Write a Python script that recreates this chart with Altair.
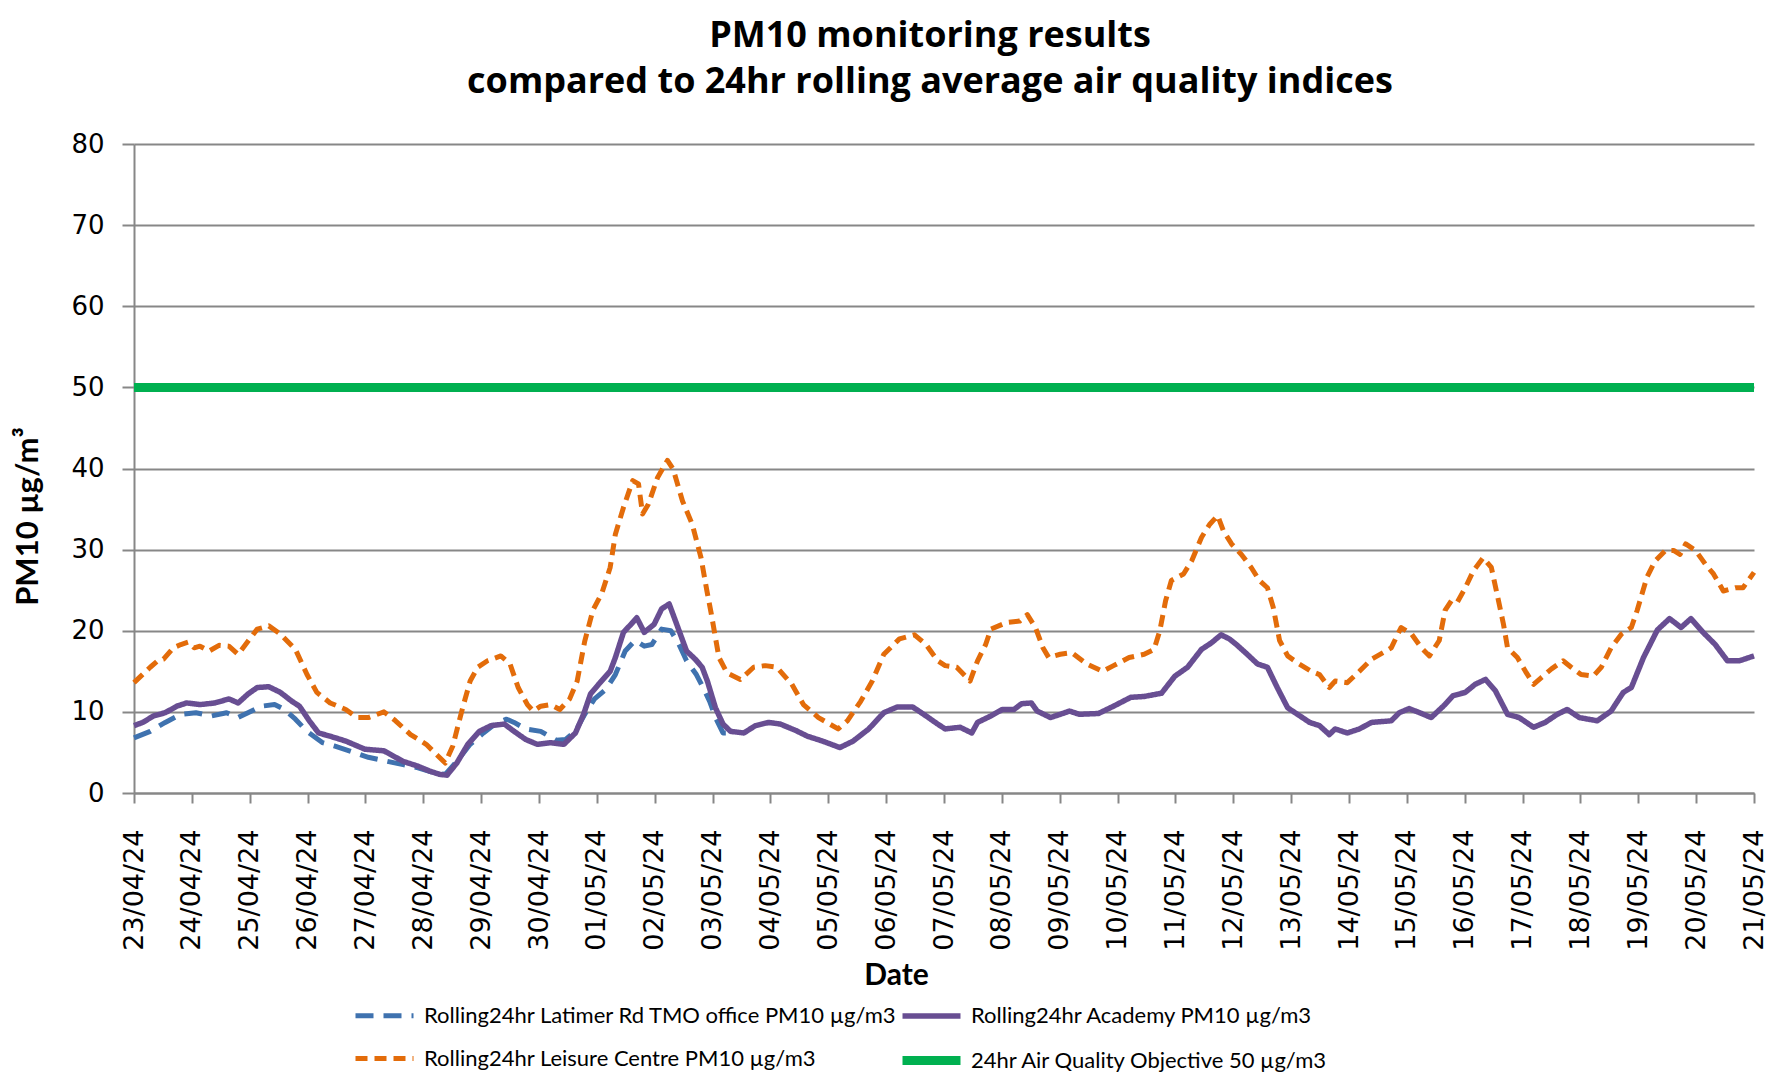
import altair as alt
import pandas as pd

# ---------------- data ----------------
START = "2024-04-23"
N_DAYS = 28

S_LAT = "Rolling24hr Latimer Rd TMO office PM10 µg/m3"
S_ACA = "Rolling24hr Academy PM10 µg/m3"
S_LEI = "Rolling24hr Leisure Centre PM10 µg/m3"
S_OBJ = "24hr Air Quality Objective 50 µg/m3"

# days elapsed since 23/04/24 00:00 and PM10 values
lat_days = [0.0, 0.28, 0.54, 0.81, 1.07, 1.34, 1.60, 1.80, 1.97, 2.20, 2.43, 2.60, 2.79, 2.99,
            3.26, 3.46, 3.72, 4.05, 4.38, 4.65, 4.91, 5.18, 5.38, 5.58, 5.81, 6.04, 6.24, 6.44,
            6.57, 6.77, 7.03, 7.30, 7.46, 7.63, 7.79, 7.96, 8.16, 8.32, 8.49, 8.66, 8.82, 8.95,
            9.12, 9.28, 9.42, 9.55, 9.72, 9.85, 9.95, 10.05, 10.18, 10.25]
lat_vals = [6.8, 7.6, 8.7, 9.7, 9.9, 9.5, 9.9, 9.3, 9.9, 10.7, 10.9, 10.3, 9.1, 7.6,
            6.2, 5.8, 5.2, 4.4, 3.9, 3.5, 3.1, 2.5, 2.3, 3.9, 6.0, 7.4, 8.5, 9.1,
            8.7, 7.9, 7.6, 6.5, 6.6, 7.6, 9.7, 11.6, 12.8, 14.6, 17.5, 18.8, 18.1, 18.3,
            20.2, 20.0, 18.3, 16.3, 14.6, 12.8, 11.3, 9.3, 7.4, 7.4]

aca_days = [0.0, 0.15, 0.34, 0.54, 0.74, 0.91, 1.14, 1.40, 1.64, 1.80, 1.97, 2.13, 2.33, 2.53,
            2.73, 2.86, 3.03, 3.19, 3.39, 3.66, 3.99, 4.32, 4.65, 4.91, 5.11, 5.28, 5.41, 5.58,
            5.77, 5.97, 6.17, 6.40, 6.57, 6.77, 6.97, 7.20, 7.43, 7.63, 7.77, 7.89, 8.03, 8.23,
            8.32, 8.46, 8.59, 8.69, 8.82, 8.99, 9.12, 9.25, 9.38, 9.55, 9.70, 9.82, 9.91, 10.05,
            10.18, 10.31, 10.54, 10.74, 10.97, 11.17, 11.44, 11.64, 11.90, 12.20, 12.43, 12.70,
            12.96, 13.19, 13.46, 13.69, 13.89, 14.02, 14.28, 14.48, 14.58, 14.81, 15.01, 15.21,
            15.34, 15.51, 15.61, 15.84, 16.01, 16.17, 16.34, 16.67, 16.93, 17.23, 17.46, 17.76,
            17.99, 18.21, 18.45, 18.62, 18.79, 18.93, 19.07, 19.24, 19.42, 19.59, 19.76, 19.94,
            20.11, 20.32, 20.49, 20.66, 20.76, 20.97, 21.18, 21.39, 21.73, 21.87, 22.04, 22.22,
            22.42, 22.63, 22.80, 23.01, 23.18, 23.36, 23.53, 23.74, 23.94, 24.19, 24.39, 24.60,
            24.77, 24.98, 25.29, 25.53, 25.74, 25.88, 26.09, 26.33, 26.54, 26.74, 26.91, 27.12,
            27.33, 27.54, 27.75, 28.0]
aca_vals = [8.3, 8.7, 9.5, 9.9, 10.7, 11.1, 10.9, 11.1, 11.6, 11.1, 12.2, 13.0, 13.1, 12.4,
            11.3, 10.7, 8.9, 7.4, 7.0, 6.4, 5.4, 5.2, 3.9, 3.3, 2.7, 2.3, 2.2, 3.7,
            6.0, 7.6, 8.3, 8.5, 7.6, 6.6, 6.0, 6.2, 6.0, 7.4, 9.7, 12.2, 13.4, 15.0,
            16.7, 19.8, 20.8, 21.6, 19.8, 20.8, 22.7, 23.3, 20.8, 17.5, 16.5, 15.5, 13.8, 10.5,
            8.5, 7.6, 7.4, 8.3, 8.7, 8.5, 7.7, 7.0, 6.4, 5.6, 6.4, 7.9,
            9.9, 10.6, 10.6, 9.5, 8.5, 7.9, 8.1, 7.4, 8.7, 9.5, 10.3, 10.3,
            11.0, 11.1, 10.1, 9.3, 9.7, 10.1, 9.7, 9.8, 10.7, 11.8, 11.9, 12.3,
            14.4, 15.5, 17.7, 18.5, 19.5, 19.0, 18.2, 17.1, 15.9, 15.5, 13.0, 10.5,
            9.7, 8.7, 8.3, 7.2, 7.9, 7.4, 7.9, 8.7, 8.9, 9.9, 10.4, 9.9,
            9.3, 10.7, 12.0, 12.4, 13.4, 14.0, 12.6, 9.7, 9.3, 8.1, 8.7, 9.7,
            10.3, 9.3, 8.9, 10.1, 12.4, 13.0, 16.7, 20.1, 21.5, 20.4, 21.5, 19.8,
            18.3, 16.3, 16.3, 16.9]

lei_days = [0.0, 0.28, 0.41, 0.51, 0.68, 0.81, 0.94, 1.04, 1.14, 1.30, 1.47, 1.64, 1.80, 1.97,
            2.13, 2.33, 2.53, 2.79, 2.99, 3.16, 3.39, 3.66, 3.85, 4.05, 4.32, 4.52, 4.78, 5.05,
            5.25, 5.38, 5.51, 5.68, 5.81, 5.94, 6.11, 6.34, 6.50, 6.64, 6.80, 6.90, 7.03, 7.20,
            7.36, 7.53, 7.66, 7.79, 7.93, 8.09, 8.23, 8.32, 8.46, 8.62, 8.72, 8.79, 8.89, 9.05,
            9.22, 9.32, 9.48, 9.65, 9.80, 9.90, 9.98, 10.11, 10.25, 10.48, 10.71, 10.91, 11.11,
            11.37, 11.57, 11.83, 12.17, 12.33, 12.56, 12.76, 12.96, 13.23, 13.49, 13.69, 13.89,
            14.02, 14.22, 14.45, 14.58, 14.72, 14.81, 15.08, 15.31, 15.44, 15.58, 15.71, 15.81,
            16.01, 16.21, 16.47, 16.74, 16.93, 17.20, 17.46, 17.63, 17.73, 17.83, 17.93, 18.14,
            18.28, 18.45, 18.59, 18.73, 18.83, 18.97, 19.14, 19.31, 19.45, 19.59, 19.69, 19.80,
            19.94, 20.14, 20.35, 20.49, 20.66, 20.76, 20.97, 21.18, 21.39, 21.59, 21.73, 21.90,
            22.08, 22.25, 22.39, 22.56, 22.66, 22.77, 22.87, 23.01, 23.15, 23.32, 23.46, 23.56,
            23.67, 23.74, 23.91, 24.05, 24.19, 24.32, 24.50, 24.70, 24.84, 25.01, 25.22, 25.36,
            25.53, 25.71, 25.88, 25.98, 26.15, 26.29, 26.47, 26.61, 26.72, 26.82, 26.99, 27.16,
            27.30, 27.47, 27.68, 27.81, 28.0]
lei_vals = [13.6, 15.5, 16.3, 16.5, 17.9, 18.3, 18.6, 17.9, 18.1, 17.5, 18.2, 18.1, 17.1, 18.7,
            20.2, 20.6, 19.6, 17.7, 14.6, 12.4, 11.1, 10.3, 9.3, 9.3, 10.0, 8.9, 7.2, 6.0,
            4.6, 3.7, 5.8, 10.5, 13.8, 15.5, 16.3, 16.9, 15.9, 13.0, 10.9, 10.1, 10.7, 10.9,
            10.3, 11.6, 13.8, 18.7, 22.5, 24.7, 27.8, 31.9, 35.2, 38.5, 38.1, 34.4, 35.6, 38.9,
            41.0, 39.9, 36.0, 33.1, 29.0, 25.0, 22.0, 16.7, 14.8, 14.0, 15.5, 15.7, 15.5,
            13.4, 10.9, 9.3, 7.9, 8.9, 11.3, 13.8, 17.1, 19.0, 19.5, 18.3, 16.3,
            15.7, 15.5, 13.8, 16.3, 18.3, 20.2, 21.0, 21.2, 22.0, 20.4, 17.9, 16.7,
            17.1, 17.3, 15.9, 15.0, 15.7, 16.7, 17.1, 17.7, 20.0, 23.7, 26.2, 27.0,
            28.6, 31.5, 33.1, 34.2, 32.3, 30.7, 29.4, 27.8, 26.2, 25.3, 22.9, 18.8,
            16.9, 15.9, 15.0, 14.6, 13.0, 13.8, 13.6, 15.0, 16.5, 17.3, 17.9, 20.4,
            19.6, 17.9, 16.9, 18.8, 22.5, 23.7, 23.5, 25.3, 27.4, 29.0, 27.8, 24.5,
            20.8, 17.9, 16.7, 15.0, 13.4, 14.2, 15.3, 16.3, 15.5, 14.6, 14.4, 15.5,
            17.9, 19.6, 20.4, 22.5, 26.6, 28.6, 29.9, 29.9, 29.4, 30.7, 29.9, 28.2,
            27.0, 24.9, 25.3, 25.3, 27.2]

obj_days = [0.0, 28.0]
obj_vals = [50, 50]

series_order = [S_LAT, S_ACA, S_LEI, S_OBJ]
series_colors = ["#3F72AF", "#684E92", "#E36C0A", "#00B050"]
series_dash = [[18, 10], [1, 0], [12, 7], [1, 0]]
series_width = [5, 5.5, 5, 9]

y_ticks = [0, 10, 20, 30, 40, 50, 60, 70, 80]

# ---------------- build table ----------------
start_ts = pd.Timestamp(START, tz="UTC")


def frame(name, days, vals):
    if len(days) != len(vals):
        raise ValueError(f"{name}: {len(days)} days vs {len(vals)} values")
    t = [start_ts + pd.to_timedelta(d, unit="D") for d in days]
    return pd.DataFrame({
        "t": [int(x.value // 1_000_000) for x in t],
        "v": vals,
        "series": name,
        "ord": list(range(len(days))),
    })


df = pd.concat([
    frame(S_LAT, lat_days, lat_vals),
    frame(S_LEI, lei_days, lei_vals),
    frame(S_ACA, aca_days, aca_vals),
    frame(S_OBJ, obj_days, obj_vals),
], ignore_index=True)

day_ticks = [int((start_ts + pd.Timedelta(days=i)).value // 1_000_000) for i in range(N_DAYS + 1)]

GRID = "#878787"

chart = alt.Chart(df).mark_line(strokeCap="butt", strokeJoin="round").encode(
    x=alt.X(
        "t:T",
        scale=alt.Scale(type="utc", domain=[day_ticks[0], day_ticks[-1]], nice=False),
        axis=alt.Axis(
            values=day_ticks,
            labelExpr="utcFormat(datum.value, '%d/%m/%y')",
            labelAngle=270,
            labelFont="DejaVu Sans",
            labelFontSize=27,
            labelColor="#000000",
            labelPadding=26,
            tickSize=10,
            tickColor=GRID,
            tickWidth=2,
            domainColor=GRID,
            domainWidth=2,
            grid=False,
            title="Date",
            titleFont="Lato",
            titleFontSize=30,
            titleFontWeight="bold",
            titleColor="#000000",
            titleX=762,
            titleY=182,
            titleBaseline="middle",
            titleAlign="center",
            labelOverlap=False,
        ),
    ),
    y=alt.Y(
        "v:Q",
        scale=alt.Scale(domain=[0, 80], nice=False, zero=True),
        axis=alt.Axis(
            values=y_ticks,
            labelFont="DejaVu Sans",
            labelFontSize=26,
            labelColor="#000000",
            labelPadding=18,
            tickSize=12,
            tickColor=GRID,
            tickWidth=2,
            domainColor=GRID,
            domainWidth=2,
            grid=True,
            gridColor=GRID,
            gridWidth=2,
            title="PM10 µg/m³",
            titleFont="Lato",
            titleFontSize=31,
            titleFontWeight="bold",
            titleColor="#000000",
            titleX=-106,
            titleY=372,
            titleAngle=270,
            titleBaseline="middle",
            titleAlign="center",
        ),
    ),
    color=alt.Color("series:N", scale=alt.Scale(domain=series_order, range=series_colors), title=None),
    strokeDash=alt.StrokeDash("series:N", scale=alt.Scale(domain=series_order, range=series_dash), title=None),
    strokeWidth=alt.StrokeWidth("series:N", scale=alt.Scale(type="ordinal", domain=series_order, range=series_width), title=None),
    detail="series:N",
    order="ord:Q",
).properties(
    width=1620,
    height=649,
    title=alt.TitleParams(
        text="PM10 monitoring results",
        subtitle="compared to 24hr rolling average air quality indices",
        font="Open Sans",
        fontSize=36,
        fontWeight="bold",
        color="#000000",
        lineHeight=36,
        subtitleFont="Open Sans",
        subtitleFontSize=36,
        subtitleFontWeight="bold",
        subtitleColor="#000000",
        subtitleLineHeight=36,
        subtitlePadding=10,
        anchor="middle",
        offset=30,
        dx=-14,
    ),
    autosize=alt.AutoSizeParams(type="none"),
    padding={"left": 126, "top": 136, "right": 14, "bottom": 279},
).configure_view(
    stroke=None
).configure_legend(
    orient="none",
    direction="horizontal",
    legendX=217,
    legendY=840,
    columns=2,
    columnPadding=-17,
    rowPadding=-18,
    padding=0,
    symbolType="stroke",
    symbolSize=3364,
    labelFont="Lato",
    labelFontSize=22,
    labelColor="#000000",
    labelOffset=6,
    labelLimit=0,
    symbolFillColor="transparent",
)

chart.save("out.html", embed_options={"renderer": "svg", "actions": False})
